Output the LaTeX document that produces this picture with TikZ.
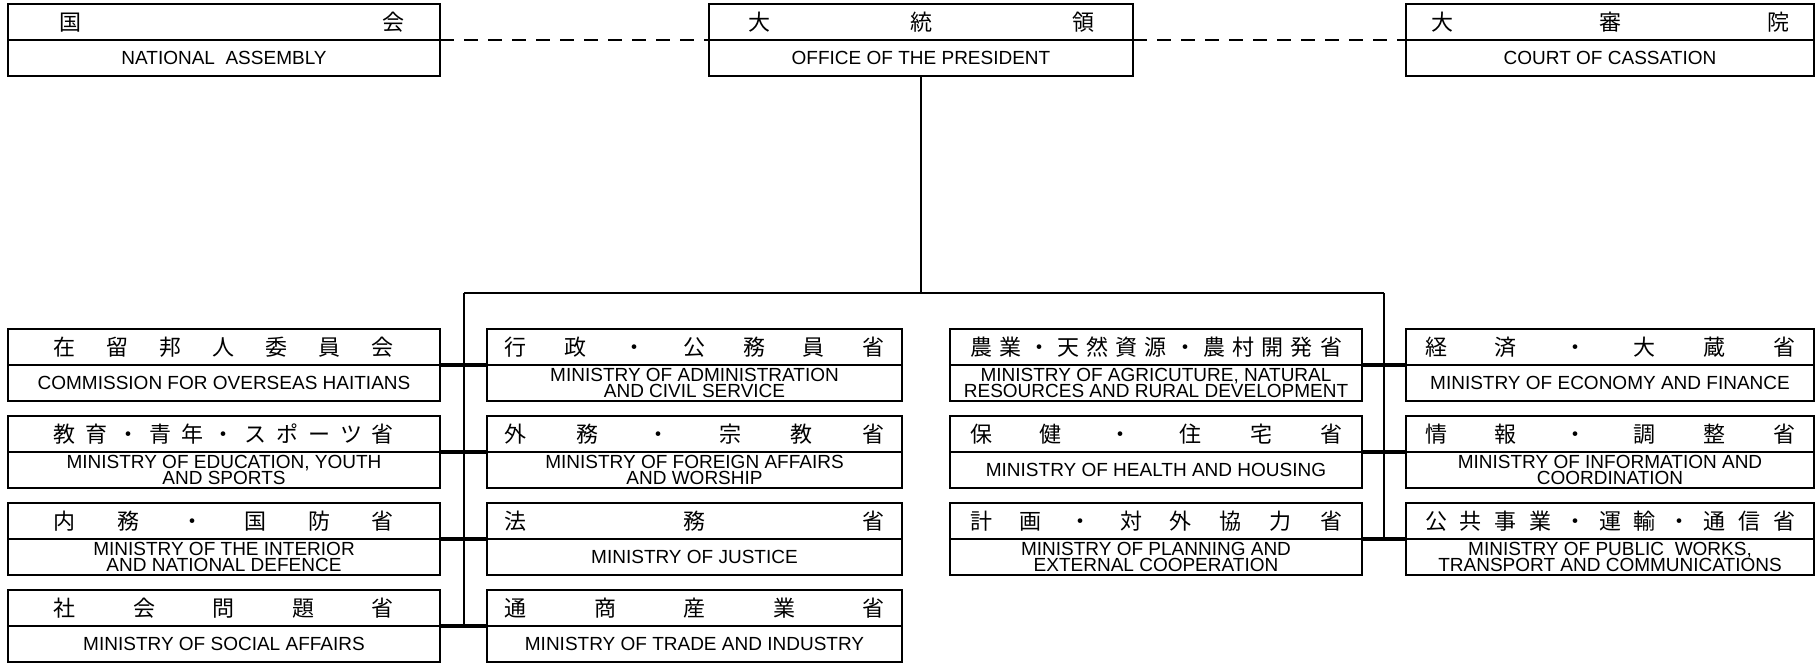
\documentclass[tikz,border=0pt]{standalone}
\usepackage{fontspec}
\setmainfont{Liberation Sans}
\newfontfamily\jpfont{Noto Sans CJK JP}
\usetikzlibrary{positioning}

\newcommand{\jspread}[2]{\hbox to #1{\jpfont #2}}

\begin{document}
\begin{tikzpicture}[x=0.5pt, y=-0.5pt,
  jcell/.style={draw, line width=0.7pt, minimum width=#1, minimum height=18pt,
    inner sep=0pt, outer sep=0pt, anchor=north west, font=\fontsize{11}{13}\selectfont},
  ecell/.style={draw, line width=0.7pt, minimum width=#1, minimum height=18pt,
    inner sep=0pt, outer sep=0pt, align=center, font=\fontsize{9.5}{8}\selectfont},
  spine/.style={line width=1.1pt},
  stub/.style={line width=1.8pt},
  tie/.style={line width=0.6pt, dash pattern=on 7pt off 5pt}]
\useasboundingbox (0,0) rectangle (1817,664);

% top row
\node[jcell=216pt] (natjp) at (8,4) {\kern8pt\jspread{173pt}{国\hfil 会}};
\node[ecell=216pt, below=0pt of natjp] (nat) {NATIONAL\ \ ASSEMBLY};
\node[jcell=212pt] (presjp) at (709,4) {\jspread{173pt}{大\hfil 統\hfil 領}};
\node[ecell=212pt, below=0pt of presjp] (pres) {OFFICE OF THE PRESIDENT};
\node[jcell=204pt] (courtjp) at (1406,4) {\jspread{179pt}{大\hfil 審\hfil 院}};
\node[ecell=204pt, below=0pt of courtjp] (court) {COURT OF CASSATION};

% first column
\node[jcell=216pt] (cosjp) at (8,329) {\jspread{170pt}{在\hfil 留\hfil 邦\hfil 人\hfil 委\hfil 員\hfil 会}};
\node[ecell=216pt, below=0pt of cosjp] (cos) {COMMISSION FOR OVERSEAS HAITIANS};
\node[jcell=216pt] (edujp) at (8,416) {\jspread{170pt}{教\hfil 育\hfil ・\hfil 青\hfil 年\hfil ・\hfil ス\hfil ポ\hfil ー\hfil ツ\hfil 省}};
\node[ecell=216pt, below=0pt of edujp] (edu) {MINISTRY OF EDUCATION, YOUTH\\AND SPORTS};
\node[jcell=216pt] (intjp) at (8,503) {\jspread{170pt}{内\hfil 務\hfil ・\hfil 国\hfil 防\hfil 省}};
\node[ecell=216pt, below=0pt of intjp] (int) {MINISTRY OF THE INTERIOR\\AND NATIONAL DEFENCE};
\node[jcell=216pt] (socjp) at (8,590) {\jspread{170pt}{社\hfil 会\hfil 問\hfil 題\hfil 省}};
\node[ecell=216pt, below=0pt of socjp] (soc) {MINISTRY OF SOCIAL AFFAIRS};

% second column
\node[jcell=207.5pt] (admjp) at (487,329) {\jspread{190pt}{行\hfil 政\hfil ・\hfil 公\hfil 務\hfil 員\hfil 省}};
\node[ecell=207.5pt, below=0pt of admjp] (adm) {MINISTRY OF ADMINISTRATION\\AND CIVIL SERVICE};
\node[jcell=207.5pt] (forjp) at (487,416) {\jspread{190pt}{外\hfil 務\hfil ・\hfil 宗\hfil 教\hfil 省}};
\node[ecell=207.5pt, below=0pt of forjp] (for) {MINISTRY OF FOREIGN AFFAIRS\\AND WORSHIP};
\node[jcell=207.5pt] (jusjp) at (487,503) {\jspread{190pt}{法\hfil 務\hfil 省}};
\node[ecell=207.5pt, below=0pt of jusjp] (jus) {MINISTRY OF JUSTICE};
\node[jcell=207.5pt] (trajp) at (487,590) {\jspread{190pt}{通\hfil 商\hfil 産\hfil 業\hfil 省}};
\node[ecell=207.5pt, below=0pt of trajp] (tra) {MINISTRY OF TRADE AND INDUSTRY};

% third column
\node[jcell=206pt] (agrjp) at (950,329) {\jspread{186pt}{農\hfil 業\hfil ・\hfil 天\hfil 然\hfil 資\hfil 源\hfil ・\hfil 農\hfil 村\hfil 開\hfil 発\hfil 省}};
\node[ecell=206pt, below=0pt of agrjp] (agr) {MINISTRY OF AGRICUTURE, NATURAL\\RESOURCES AND RURAL DEVELOPMENT};
\node[jcell=206pt] (heajp) at (950,416) {\jspread{186pt}{保\hfil 健\hfil ・\hfil 住\hfil 宅\hfil 省}};
\node[ecell=206pt, below=0pt of heajp] (hea) {MINISTRY OF HEALTH AND HOUSING};
\node[jcell=206pt] (plnjp) at (950,503) {\jspread{186pt}{計\hfil 画\hfil ・\hfil 対\hfil 外\hfil 協\hfil 力\hfil 省}};
\node[ecell=206pt, below=0pt of plnjp] (pln) {MINISTRY OF PLANNING AND\\EXTERNAL COOPERATION};

% fourth column
\node[jcell=204pt] (ecojp) at (1406,329) {\jspread{185pt}{経\hfil 済\hfil ・\hfil 大\hfil 蔵\hfil 省}};
\node[ecell=204pt, below=0pt of ecojp] (eco) {MINISTRY OF ECONOMY AND FINANCE};
\node[jcell=204pt] (infjp) at (1406,416) {\jspread{185pt}{情\hfil 報\hfil ・\hfil 調\hfil 整\hfil 省}};
\node[ecell=204pt, below=0pt of infjp] (inf) {MINISTRY OF INFORMATION AND\\COORDINATION};
\node[jcell=204pt] (pubjp) at (1406,503) {\jspread{185pt}{公\hfil 共\hfil 事\hfil 業\hfil ・\hfil 運\hfil 輸\hfil ・\hfil 通\hfil 信\hfil 省}};
\node[ecell=204pt, below=0pt of pubjp] (pub) {MINISTRY OF PUBLIC\ \ WORKS,\\TRANSPORT AND COMMUNICATIONS};

% connectors
\draw[tie] (natjp.south east) -- (presjp.south west);
\draw[tie] (presjp.south east) -- (courtjp.south west);
\coordinate (busl) at (464,293);
\coordinate (busr) at (1384,293);
\draw[spine] (pres.south) -- (pres.south |- busl);
\draw[spine] (busl) -- (busr);
\draw[spine] (busl) -- (busl |- socjp.south east);
\draw[spine] (busr) -- (busr |- plnjp.south east);
\foreach \a/\b in {cosjp/admjp, edujp/forjp, intjp/jusjp, socjp/trajp, agrjp/ecojp, heajp/infjp, plnjp/pubjp}
  \draw[stub] (\a.south east) -- (\b.south west);
\end{tikzpicture}
\end{document}
